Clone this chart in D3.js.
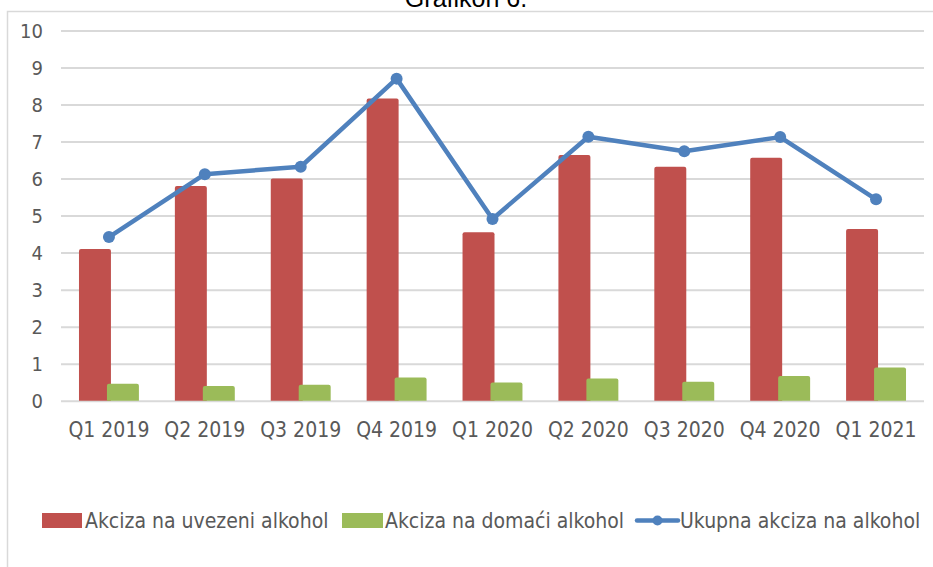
<!DOCTYPE html>
<html>
<head>
<meta charset="utf-8">
<script src="https://cdn.jsdelivr.net/npm/d3@7"></script>
<style>
  html, body { margin: 0; padding: 0; background: #fff; }
  svg { display: block; }
  text { font-family: "DejaVu Sans Condensed", "DejaVu Sans", sans-serif; font-stretch: condensed; fill: #595959; }
</style>
</head>
<body>
<div id="chart"></div>
<script>
const quarters = ['Q1 2019', 'Q2 2019', 'Q3 2019', 'Q4 2019', 'Q1 2020', 'Q2 2020', 'Q3 2020', 'Q4 2020', 'Q1 2021'];
const imported = [4.1, 5.8, 6.0, 8.16, 4.55, 6.64, 6.32, 6.56, 4.64];
const domestic = [0.46, 0.40, 0.43, 0.63, 0.49, 0.60, 0.51, 0.67, 0.90];
const total    = [4.42, 6.12, 6.32, 8.70, 4.91, 7.13, 6.74, 7.12, 5.44];
const yTicks   = [0, 1, 2, 3, 4, 5, 6, 7, 8, 9, 10];
const seriesNames = ['Akciza na uvezeni alkohol', 'Akciza na domaći alkohol', 'Ukupna akciza na alkohol'];

const W = 933, H = 567;
const RED = '#c0504d', GREEN = '#9bbb59', BLUE = '#4f81bd';
const pL = 61, pR = 924, pT = 30.5, pB = 400.7;

const svg = d3.select('#chart').append('svg').attr('width', W).attr('height', H);

// frame + title (cut off at the top, as in the source)
svg.append('rect').attr('x', 7.5).attr('y', 11.5).attr('width', W + 10).attr('height', H + 10)
  .attr('fill', '#fff').attr('stroke', '#d9d9d9').attr('stroke-width', 1.5);
svg.append('text').attr('x', 466).attr('y', 7).attr('text-anchor', 'middle')
  .style('font-family', '"Liberation Sans", Arial, sans-serif').style('font-stretch', 'normal')
  .style('fill', '#000').attr('font-size', 25).text('Grafikon 6.');

const x = d3.scaleBand().domain(quarters).range([pL, pR]);
const y = d3.scaleLinear().domain([0, 10]).range([pB, pT]);
const bw = x.bandwidth();
const barW = bw / 3;
const cx = q => x(q) + bw / 2;

// grid + y labels
const gy = svg.append('g').attr('transform', `translate(${pL},0)`)
  .call(d3.axisLeft(y).tickValues(yTicks).tickSize(-(pR - pL)).tickPadding(18).tickFormat(d3.format('d')));
gy.select('.domain').remove();
gy.selectAll('.tick line').attr('stroke', '#d9d9d9').attr('stroke-width', 2);
gy.selectAll('.tick text').attr('font-size', 20).attr('dy', '0.36em');

// bars
const r = 2;
const topRounded = (x0, y0, w, h) =>
  `M${x0},${y0 + h}V${y0 + r}Q${x0},${y0} ${x0 + r},${y0}H${x0 + w - r}Q${x0 + w},${y0} ${x0 + w},${y0 + r}V${y0 + h}Z`;

svg.append('g').selectAll('path').data(quarters).join('path')
  .attr('fill', RED)
  .attr('d', (q, i) => topRounded(cx(q) - barW + 2, y(imported[i]), barW, y(0) - y(imported[i])));
svg.append('g').selectAll('path').data(quarters).join('path')
  .attr('fill', GREEN)
  .attr('d', (q, i) => topRounded(cx(q) - 2, y(domestic[i]), barW, y(0) - y(domestic[i])));

// x labels
svg.append('g').attr('transform', `translate(0,${pB})`)
  .call(d3.axisBottom(x).tickSize(0).tickPadding(21))
  .call(g => g.select('.domain').remove())
  .selectAll('text').attr('font-size', 21);

// line
const line = d3.line().x((d, i) => cx(quarters[i])).y(d => y(d));
svg.append('path').datum(total).attr('d', line)
  .attr('fill', 'none').attr('stroke', BLUE).attr('stroke-width', 4.5).attr('stroke-linejoin', 'round');
svg.append('g').selectAll('circle').data(total).join('circle')
  .attr('cx', (d, i) => cx(quarters[i])).attr('cy', d => y(d)).attr('r', 6).attr('fill', BLUE);

// legend
const ly = 520.5;
const lg = svg.append('g').attr('font-size', 21);
lg.append('rect').attr('x', 42).attr('y', ly - 7.5).attr('width', 40).attr('height', 15).attr('fill', RED);
lg.append('text').attr('x', 85).attr('y', ly).attr('dy', '0.36em').text(seriesNames[0]);
lg.append('rect').attr('x', 342).attr('y', ly - 7.5).attr('width', 41).attr('height', 15).attr('fill', GREEN);
lg.append('text').attr('x', 385).attr('y', ly).attr('dy', '0.36em').text(seriesNames[1]);
lg.append('line').attr('x1', 637).attr('x2', 678).attr('y1', ly).attr('y2', ly)
  .attr('stroke', BLUE).attr('stroke-width', 4.5).attr('stroke-linecap', 'round');
lg.append('circle').attr('cx', 657.5).attr('cy', ly).attr('r', 5).attr('fill', BLUE);
lg.append('text').attr('x', 680).attr('y', ly).attr('dy', '0.36em').text(seriesNames[2]);
</script>
</body>
</html>
